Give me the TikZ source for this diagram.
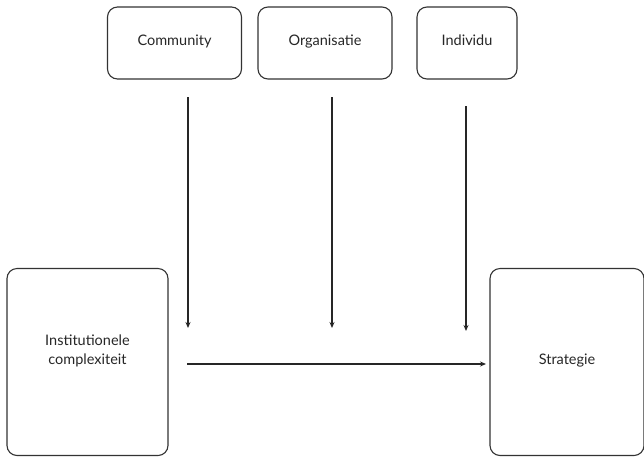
\documentclass[tikz,border=0pt]{standalone}
\usepackage{fontspec}
\setmainfont{Lato}
\usetikzlibrary{arrows.meta}
\begin{document}
\begin{tikzpicture}[x=1pt,y=-1pt,
  box/.style={draw=black!80,line width=1.1pt,rounded corners=10pt,align=center,text=black!85,font=\fontsize{14.5}{19}\selectfont,text height=1.6ex,text depth=0.45ex},
  conn/.style={draw=black!85,line width=1.2pt,-{Stealth[length=6pt,width=5pt]}}]
\useasboundingbox (0,0) rectangle (644,456);
\node[box,minimum width=134pt,minimum height=72pt] (com) at (174.5,43) {Community};
\node[box,minimum width=134pt,minimum height=72pt] (org) at (325,43) {Organisatie};
\node[box,minimum width=100pt,minimum height=72pt] (ind) at (467,43) {Individu};
\node[box,minimum width=161pt,minimum height=187pt] (inst) at (87.5,362) {Institutionele\\complexiteit};
\node[box,minimum width=154pt,minimum height=187pt] (str) at (567,362) {Strategie};
\coordinate (c1s) at (188,97);
\coordinate (c1e) at (188,328);
\coordinate (c2s) at (332,97);
\coordinate (c2e) at (332,328);
\coordinate (c3s) at (466,106);
\coordinate (c3e) at (466,331);
\coordinate (hs) at (187,364);
\coordinate (he) at (486,364);
\draw[conn] (c1s) -- (c1e);
\draw[conn] (c2s) -- (c2e);
\draw[conn] (c3s) -- (c3e);
\draw[conn] (hs) -- (he);
\end{tikzpicture}
\end{document}
